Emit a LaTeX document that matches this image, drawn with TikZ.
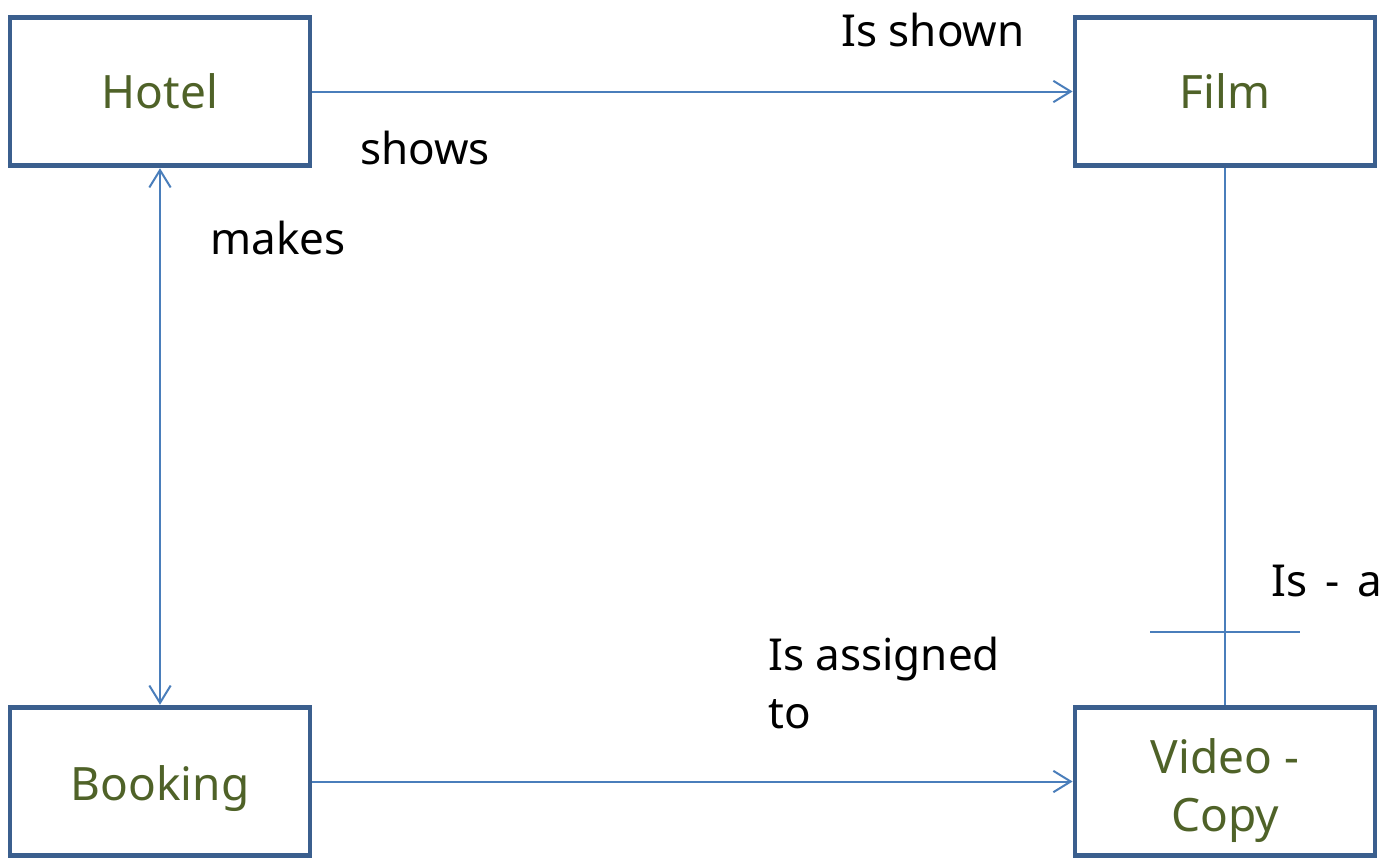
\documentclass[tikz,border=0pt]{standalone}
\usepackage{fontspec}
\setmainfont{Noto Sans}
\usetikzlibrary{arrows.meta}
\definecolor{boxblue}{HTML}{3B5F8E}
\definecolor{linkblue}{HTML}{4A7EBB}
\definecolor{olive}{HTML}{4F6228}
\tikzset{
  entity/.style={draw=boxblue, line width=3.6pt, rectangle, minimum width=225pt, minimum height=111.5pt, inner sep=0pt, text=olive, font=\fontsize{34.5pt}{43.5pt}\selectfont, align=center},
  etext/.style={text=olive, font=\fontsize{34.5pt}{43.5pt}\selectfont, align=center, inner sep=0pt},
  link/.style={draw=linkblue, line width=1.5pt, -{Straight Barb[length=13pt,width=16pt,line width=1.5pt]}},
  rel/.style={text=black, font=\fontsize{33pt}{43pt}\selectfont, inner sep=0pt, align=left}
}
\begin{document}
\begin{tikzpicture}[x=0.75pt,y=-0.75pt]
\useasboundingbox (0,0) rectangle (1389,858);
\node[entity] (hotel) at (160,91.5) {Hotel};
\node[entity] (film) at (1225,91.5) {Film};
\node[entity, label={[etext, yshift=-5pt]center:Booking}] (booking) at (160,781.5) {};
\node[entity, label={[etext, yshift=-6.5pt]center:{Video -\\Copy}}] (video) at (1225,781.5) {};
\draw[link] (hotel.east) -- (film.west);
\draw[link,{Straight Barb[length=13pt,width=16pt,line width=1.5pt]}-{Straight Barb[length=13pt,width=16pt,line width=1.5pt]}] (hotel.south) -- (booking.north);
\draw[link] (booking.east) -- (video.west);
\draw[draw=linkblue, line width=1.5pt] (film.south) -- (video.north);
\coordinate (barL) at (1150,632);
\coordinate (barR) at (1300,632);
\draw[draw=linkblue, line width=1.5pt] (barL) -- (barR);
\node[rel] (isshown) at (933,30) {Is shown};
\node[rel] (shows) at (425,148) {shows};
\node[rel] (makes) at (278,238) {makes};
\node[rel] (isa) at (1327,581) {Is\hspace{0.4em}-\hspace{0.4em}a};
\node[rel, anchor=north west] (assigned) at (768,637) {Is assigned\\to};
\end{tikzpicture}
\end{document}
